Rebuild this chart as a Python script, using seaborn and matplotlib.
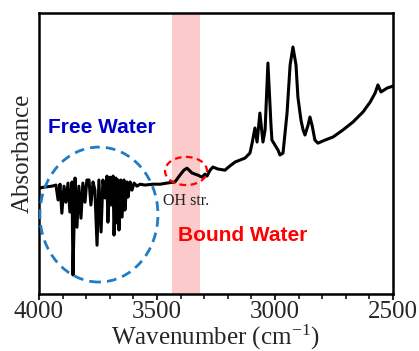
import numpy as np
import pandas as pd
import matplotlib
matplotlib.use("Agg")
import matplotlib.pyplot as plt
from matplotlib.patches import Ellipse
from matplotlib.ticker import MultipleLocator
import seaborn as sns

# spectrum (wavenumber in cm-1, absorbance in arbitrary units)
wavenumber = [4000, 3975, 3945, 3928, 3919, 3911, 3903, 3894, 3886, 3877,
              3869, 3860, 3856, 3847, 3839, 3831, 3822, 3814, 3805, 3797,
              3788, 3780, 3771, 3763, 3754, 3746, 3737, 3729, 3720, 3712,
              3708, 3699, 3695, 3686, 3682, 3674, 3669, 3665, 3661, 3653,
              3648, 3640, 3636, 3627, 3623, 3614, 3606, 3597, 3585, 3572,
              3551, 3517, 3487, 3458, 3424, 3403, 3386, 3373, 3360, 3352,
              3339, 3326, 3309, 3297, 3288, 3275, 3263, 3242, 3212, 3191,
              3169, 3148, 3127, 3106, 3097, 3085, 3076, 3064, 3051, 3042,
              3030, 3017, 3013, 3000, 2987, 2979, 2966, 2949, 2936, 2924,
              2911, 2903, 2890, 2881, 2873, 2860, 2852, 2843, 2831, 2818,
              2788, 2754, 2712, 2670, 2627, 2597, 2576, 2564, 2551, 2525, 2500]
absorbance = [0.377, 0.381, 0.384, 0.388, 0.335, 0.391, 0.288, 0.384, 0.327, 0.395,
              0.292, 0.399, 0.068, 0.413, 0.238, 0.384, 0.270, 0.395, 0.327, 0.406,
              0.406, 0.317, 0.399, 0.370, 0.174, 0.406, 0.221, 0.406, 0.342, 0.420,
              0.256, 0.416, 0.317, 0.420, 0.210, 0.413, 0.253, 0.406, 0.228, 0.406,
              0.274, 0.406, 0.299, 0.399, 0.345, 0.399, 0.370, 0.395, 0.384, 0.391,
              0.388, 0.391, 0.391, 0.395, 0.399, 0.423, 0.441, 0.448, 0.438, 0.431,
              0.427, 0.423, 0.416, 0.427, 0.420, 0.441, 0.452, 0.445, 0.441, 0.456,
              0.470, 0.477, 0.484, 0.502, 0.537, 0.591, 0.541, 0.644, 0.541, 0.584,
              0.822, 0.601, 0.548, 0.530, 0.512, 0.495, 0.502, 0.644, 0.815, 0.879,
              0.815, 0.701, 0.619, 0.584, 0.566, 0.601, 0.630, 0.601, 0.548, 0.537,
              0.548, 0.559, 0.584, 0.612, 0.648, 0.683, 0.715, 0.744, 0.719, 0.733, 0.740]

oh_band = (3436, 3318)
free_water_region = (3746, 0.283, 500, 0.48)   # centre x, centre y, width, height
oh_region = (3377, 0.438, 178, 0.10)

df = pd.DataFrame({"Wavenumber": wavenumber, "Absorbance": absorbance})

sns.set_style("white")
plt.rcParams["font.family"] = ["Liberation Serif", "DejaVu Serif"]
plt.rcParams["mathtext.fontset"] = "stix"

fig = plt.figure(figsize=(4.19, 3.51), dpi=100)
ax = fig.add_axes([0.093, 0.162, 0.845, 0.801])

ax.axvspan(*oh_band, color="#fbcaca", lw=0, zorder=0)
sns.lineplot(data=df, x="Wavenumber", y="Absorbance", color="black", lw=2.2,
             sort=False, ax=ax, zorder=3)

ax.add_patch(Ellipse(free_water_region[:2], free_water_region[2], free_water_region[3],
                     fill=False, ec="#1f7cc6", lw=2.0, ls=(0, (3.5, 2.2)), zorder=4))
ax.add_patch(Ellipse(oh_region[:2], oh_region[2], oh_region[3],
                     fill=False, ec="#ff0000", lw=1.6, ls=(0, (3, 2)), zorder=4))

ax.text(3733, 0.594, "Free Water", color="#0000cc", fontsize=15, fontweight="bold",
        family=["Liberation Sans", "DejaVu Sans"], ha="center", va="center")
ax.text(3136, 0.210, "Bound Water", color="#ff0000", fontsize=15, fontweight="bold",
        family=["Liberation Sans", "DejaVu Sans"], ha="center", va="center")
ax.text(3377, 0.331, "OH str.", color="#222222", fontsize=11.5, ha="center", va="center")

ax.set_xlim(4000, 2500)
ax.set_ylim(0, 1)
ax.xaxis.set_major_locator(MultipleLocator(500))
ax.xaxis.set_minor_locator(MultipleLocator(100))
ax.set_yticks([])
ax.tick_params(axis="x", which="major", direction="out", length=4, width=1.5,
               labelsize=18, pad=1, bottom=True)
ax.tick_params(axis="x", which="minor", direction="out", length=3.5, width=1.3, bottom=True)
for sp in ax.spines.values():
    sp.set_color("black")
    sp.set_linewidth(1.8)

ax.set_xlabel("Wavenumber (cm$^{\\mathregular{-1}}$)", fontsize=18, labelpad=-0.5)
ax.set_ylabel("Absorbance", fontsize=18, labelpad=4)

fig.savefig("out.png", dpi=100)
